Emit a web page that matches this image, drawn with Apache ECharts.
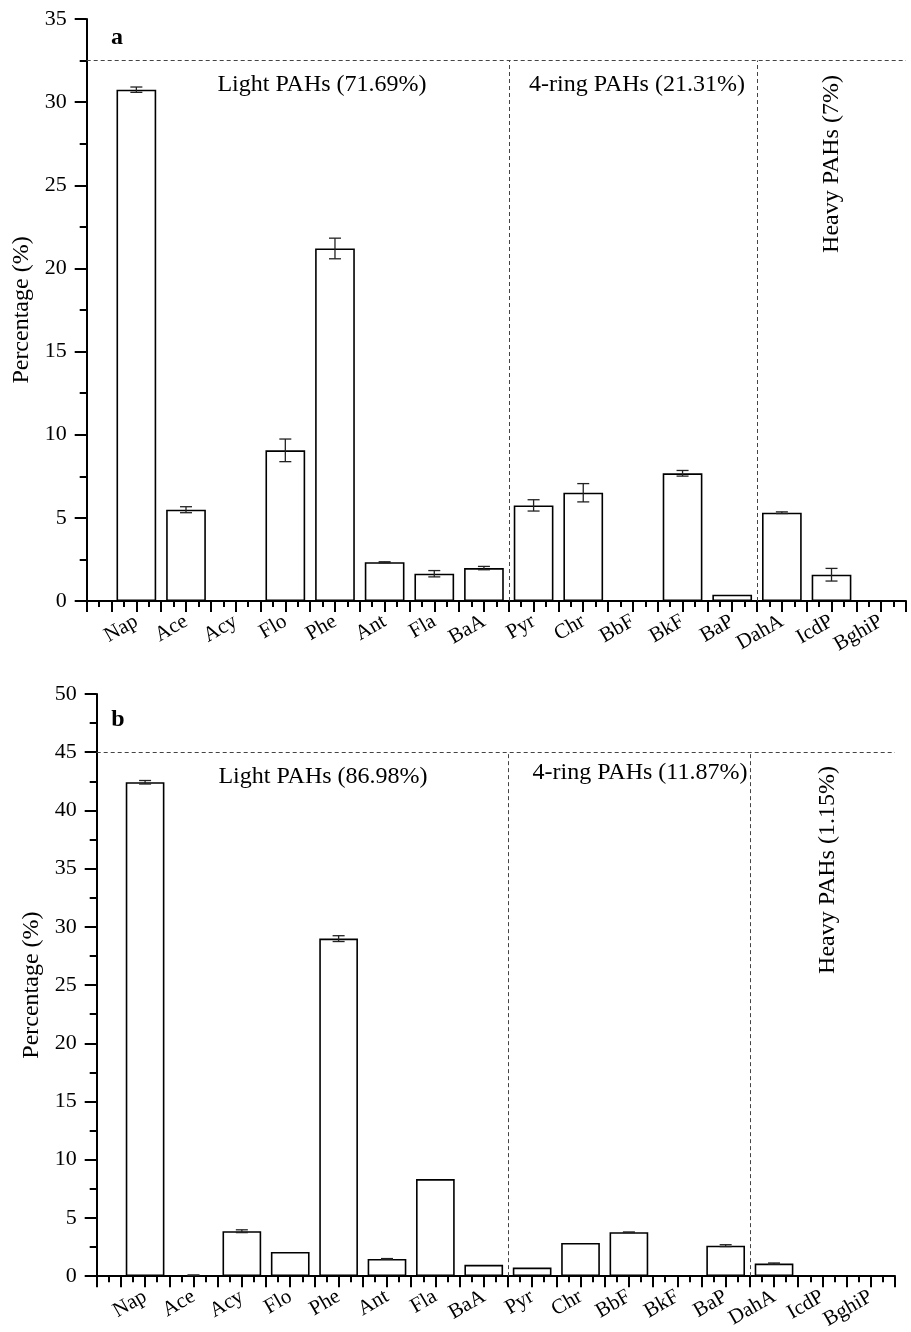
<!DOCTYPE html>
<html>
<head>
<meta charset="utf-8">
<script src="https://cdn.jsdelivr.net/npm/echarts@6/dist/echarts.min.js"></script>
<style>html,body{margin:0;padding:0;background:#fff;}#c{width:911px;height:1332px;}</style>
</head>
<body>
<div id="c"></div>
<script>
const cats = ['Nap','Ace','Acy','Flo','Phe','Ant','Fla','BaA','Pyr','Chr','BbF','BkF','BaP','DahA','IcdP','BghiP'];
const valuesA = [30.75, 5.49, 0, 9.06, 21.2, 2.33, 1.64, 1.98, 5.75, 6.51, 0, 7.68, 0.38, 5.31, 1.58, 0];
const errorsA = [0.16, 0.18, 0, 0.68, 0.62, 0.03, 0.19, 0.10, 0.34, 0.55, 0, 0.17, 0, 0.05, 0.38, 0];
const valuesB = [42.42, 0.08, 3.86, 2.08, 28.99, 1.48, 8.34, 0.97, 0.74, 2.85, 3.77, 0, 2.62, 1.08, 0, 0];
const errorsB = [0.15, 0.02, 0.12, 0, 0.25, 0.03, 0, 0, 0, 0, 0.02, 0, 0.08, 0.05, 0, 0];
const groupBounds = [8.5, 13.5];
const ceilingA = 32.5;
const ceilingB = 45;
const yTicksA = {min: 0, max: 35, interval: 5};
const yTicksB = {min: 0, max: 50, interval: 5};
const labelsA = ['Light PAHs (71.69%)', '4-ring PAHs (21.31%)', 'Heavy PAHs (7%)'];
const labelsB = ['Light PAHs (86.98%)', '4-ring PAHs (11.87%)', 'Heavy PAHs (1.15%)'];

const FONT = '"Liberation Serif", "Times New Roman", serif';
const XMAX = 16.5;
const gridA = {left: 86.7, top: 19, right: 5, bottom: 731};
const gridB = {left: 96.7, top: 694, right: 16, bottom: 54.7};
const W = 911;
const bwA = (W - gridA.left - gridA.right) / XMAX * 0.8;
const bwB = (W - gridB.left - gridB.right) / XMAX * 0.8;

function xAxis(idx) {
  return {
    type: 'value', gridIndex: idx, min: 0, max: XMAX, interval: 0.5,
    axisLine: {show: true, onZero: false, lineStyle: {color: '#000', width: 2}},
    axisTick: {show: true, length: 11, lineStyle: {color: '#000', width: 2}},
    minorTick: {show: true, splitNumber: 2, length: 6, lineStyle: {color: '#000', width: 2}},
    splitLine: {show: false},
    axisLabel: {
      rotate: 30, margin: 19, fontFamily: FONT, fontSize: 21, color: '#000',
      formatter: v => (Number.isInteger(v) && v >= 1 && v <= cats.length) ? cats[v - 1] : ''
    }
  };
}
function yAxis(idx, t) {
  return {
    type: 'value', gridIndex: idx, min: t.min, max: t.max, interval: t.interval,
    name: 'Percentage (%)', nameLocation: 'middle', nameGap: 52, nameRotate: 90,
    nameTextStyle: {fontFamily: FONT, fontSize: 24, color: '#000'},
    axisLine: {show: true, lineStyle: {color: '#000', width: 2}},
    axisTick: {show: true, length: 12, lineStyle: {color: '#000', width: 2}},
    minorTick: {show: true, splitNumber: 2, length: 7, lineStyle: {color: '#000', width: 2}},
    splitLine: {show: false},
    axisLabel: {margin: 20, fontFamily: FONT, fontSize: 22, color: '#000'}
  };
}
function barSeries(idx, vals, bw) {
  return {
    type: 'bar', xAxisIndex: idx, yAxisIndex: idx, barWidth: bw,
    data: vals.map((v, i) => [i + 1, v]),
    itemStyle: {color: '#fff', borderColor: '#000', borderWidth: 1.6},
    silent: true, z: 3
  };
}
function errSeries(idx, vals, errs) {
  return {
    type: 'custom', xAxisIndex: idx, yAxisIndex: idx, z: 5,
    data: vals.map((v, i) => [i + 1, v, errs[i]]),
    renderItem: function (params, api) {
      const x = api.value(0), v = api.value(1), e = api.value(2);
      if (!e) return null;
      const t = api.coord([x, v + e]), b = api.coord([x, v - e]);
      const cw = 6;
      const st = {stroke: '#222', lineWidth: 1.3};
      return {type: 'group', children: [
        {type: 'line', shape: {x1: t[0], y1: t[1], x2: b[0], y2: b[1]}, style: st},
        {type: 'line', shape: {x1: t[0] - cw, y1: t[1], x2: t[0] + cw, y2: t[1]}, style: st},
        {type: 'line', shape: {x1: b[0] - cw, y1: b[1], x2: b[0] + cw, y2: b[1]}, style: st}
      ]};
    }
  };
}
function dashSeries(idx, ceiling) {
  const segs = [[{coord: [0, ceiling]}, {coord: [XMAX, ceiling]}]];
  groupBounds.forEach(g => segs.push([{coord: [g, 0]}, {coord: [g, ceiling]}]));
  return {
    type: 'line', xAxisIndex: idx, yAxisIndex: idx, data: [], z: 2,
    markLine: {
      silent: true, symbol: ['none', 'none'], label: {show: false},
      lineStyle: {type: [4, 3], color: '#444', width: 1},
      data: segs
    }
  };
}
function txt(text, x, y, size, rot, bold) {
  return {
    type: 'text', x: x, y: y, rotation: rot || 0, z: 10,
    style: {text: text, align: 'center', verticalAlign: 'middle',
      font: (bold ? 'bold ' : '') + size + 'px ' + FONT, fill: '#000'}
  };
}

const chart = echarts.init(document.getElementById('c'));
chart.setOption({
  animation: false,
  backgroundColor: '#fff',
  grid: [Object.assign({containLabel: false}, gridA), Object.assign({containLabel: false}, gridB)],
  xAxis: [xAxis(0), xAxis(1)],
  yAxis: [yAxis(0, yTicksA), yAxis(1, yTicksB)],
  series: [
    dashSeries(0, ceilingA), barSeries(0, valuesA, bwA), errSeries(0, valuesA, errorsA),
    dashSeries(1, ceilingB), barSeries(1, valuesB, bwB), errSeries(1, valuesB, errorsB)
  ],
  graphic: [
    txt('a', 117, 38, 24, 0, true),
    txt(labelsA[0], 322, 85, 24),
    txt(labelsA[1], 637, 85, 24),
    txt(labelsA[2], 832, 164, 24, Math.PI / 2),
    txt('b', 118, 720, 24, 0, true),
    txt(labelsB[0], 323, 777, 24),
    txt(labelsB[1], 640, 773, 24),
    txt(labelsB[2], 828, 870, 24, Math.PI / 2)
  ]
});
</script>
</body>
</html>
